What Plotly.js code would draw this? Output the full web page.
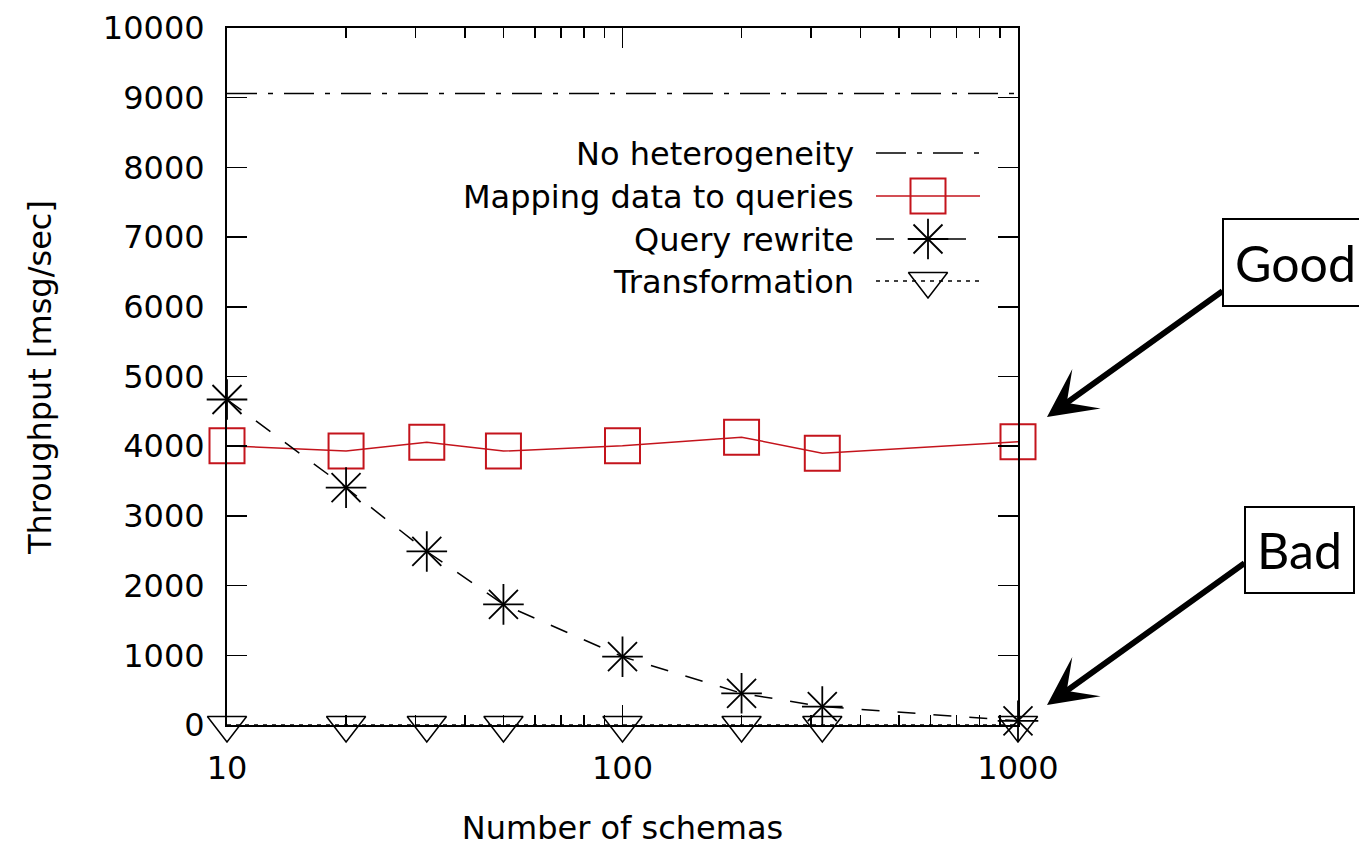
<!DOCTYPE html>
<html>
<head>
<meta charset="utf-8">
<script src="https://cdn.plot.ly/plotly-3.0.1.min.js"></script>
<style>html,body{margin:0;padding:0;background:#fff;overflow:hidden}#chart{width:1359px;height:849px}</style>
</head>
<body>
<div id="chart"></div>
<script>
// ---- data ----
const schemas = [10, 20, 32, 50, 100, 200, 320, 1000];
const noHeterogeneity = [9060, 9060, 9060, 9060, 9060, 9060, 9060, 9060];
const mappingDataToQueries = [4005, 3930, 4055, 3930, 4005, 4130, 3900, 4065];
const queryRewrite = [4670, 3405, 2490, 1730, 980, 455, 265, 60];
const transformation = [0, 0, 0, 0, 0, 0, 0, 0];
const seriesNames = ["No heterogeneity", "Mapping data to queries", "Query rewrite", "Transformation"];
const xTickVals = [10, 100, 1000];
const xTickText = ["10", "100", "1000"];
const calloutTexts = ["Good", "Bad"];
const xTitle = "Number of schemas";
const yTitle = "Throughput [msg/sec]";

// ---- layout constants (pixels) ----
const W = 1359, H = 849;
const P = {l: 227, r: 1018, t: 28, b: 725};
const FONT = "DejaVu Sans";
const RED = "#c4141c";
const px2paperX = px => (px - P.l) / (P.r - P.l);
const px2paperY = py => (P.b - py) / (P.b - P.t);

const minorX = [];
[10, 100].forEach(d => { for (let k = 2; k <= 9; k++) minorX.push(k * d); });

const styles = [
  {line: {color: "black", width: 1.5, dash: "30px,11px,5px,11px"}},
  {line: {color: RED, width: 1.5}, marker: {symbol: "square-open", size: 35, color: RED, line: {width: 2, color: RED}}},
  {line: {color: "black", width: 1.5, dash: "18px,18px"},
   marker: {symbol: "cross-thin-open", size: 29, color: "black", line: {width: 1.8, color: "black"}},
   marker2: {symbol: "x-thin-open", size: 29, color: "black", line: {width: 1.8, color: "black"}}},
  {line: {color: "black", width: 1.5, dash: "4px,5px"}, marker: {symbol: "triangle-down-open", size: 34, color: "black", line: {width: 1.5, color: "black"}}}
];
const seriesY = [noHeterogeneity, mappingDataToQueries, queryRewrite, transformation];

function mk(o) { const t = {type: "scatter", cliponaxis: false, showlegend: false, hoverinfo: "skip"}; return Object.assign(t, o); }

const traces = [];
seriesY.forEach((ys, i) => {
  const s = styles[i];
  const t = mk({x: schemas, y: ys, mode: s.marker ? "lines+markers" : "lines", name: seriesNames[i], line: s.line});
  if (s.marker) t.marker = s.marker;
  traces.push(t);
  if (s.marker2) traces.push(mk({x: schemas, y: ys, mode: "markers", marker: s.marker2}));
});

// ---- custom legend (text left, key right, gnuplot style) ----
const legendRows = [153, 196, 239, 281];
const keyX0 = 876, keyX1 = 980, keyXm = 928, textRight = 856;
const annotations = [];
seriesNames.forEach((name, i) => {
  const s = styles[i];
  const yy = legendRows[i];
  traces.push(mk({x: [keyX0, keyX1], y: [yy, yy], xaxis: "x2", yaxis: "y2", mode: "lines", line: s.line}));
  if (s.marker) traces.push(mk({x: [keyXm], y: [yy], xaxis: "x2", yaxis: "y2", mode: "markers", marker: s.marker}));
  if (s.marker2) traces.push(mk({x: [keyXm], y: [yy], xaxis: "x2", yaxis: "y2", mode: "markers", marker: s.marker2}));
  annotations.push({xref: "x2", yref: "y2", x: textRight, y: yy + 1, xanchor: "right", yanchor: "middle",
    text: name, showarrow: false, font: {family: FONT, size: 32, color: "black"}});
});

// ---- y axis title (placed like the reference) ----
annotations.push({xref: "paper", yref: "paper", x: px2paperX(40), y: px2paperY(378), xanchor: "center", yanchor: "middle",
  text: yTitle, textangle: -90, showarrow: false, font: {family: FONT, size: 32, color: "black"}});

// ---- callouts: boxed label + separate arrow ----
const callouts = [
  {boxLeft: 1222, boxMidY: 262.5, tail: [1224, 290], tip: [1047, 417], w: 150, h: 63, align: "left"},
  {boxLeft: 1244, boxMidY: 550, tail: [1246, 562], tip: [1047, 705], w: 85, h: 62, align: "center"}
];
callouts.forEach((c, i) => {
  annotations.push({xref: "paper", yref: "paper", x: px2paperX(c.tip[0]), y: px2paperY(c.tip[1]),
    ax: c.tail[0] - c.tip[0], ay: c.tail[1] - c.tip[1], axref: "pixel", ayref: "pixel",
    text: "", showarrow: true, arrowhead: 3, arrowsize: 1.35, arrowwidth: 6, arrowcolor: "black", standoff: 0});
  annotations.push({xref: "paper", yref: "paper", x: px2paperX(c.boxLeft), y: px2paperY(c.boxMidY),
    xanchor: "left", yanchor: "middle", showarrow: false, width: c.w, height: c.h, align: c.align,
    text: calloutTexts[i], bordercolor: "black", borderwidth: 2, borderpad: 11, bgcolor: "white",
    font: {family: "Lato", size: 50, color: "black"}});
});

const axisCommon = {
  showline: true, linecolor: "black", linewidth: 2, mirror: "ticks", ticks: "inside", tickcolor: "black",
  tickwidth: 1.5, ticklen: 20, showgrid: false, zeroline: false,
  tickfont: {family: FONT, size: 32, color: "black"}
};

const layout = {
  width: W, height: H,
  margin: {l: P.l, r: W - P.r, t: P.t, b: H - P.b},
  paper_bgcolor: "white", plot_bgcolor: "white",
  showlegend: false,
  xaxis: Object.assign({}, axisCommon, {
    type: "log", range: [1, 3], tickvals: xTickVals, ticktext: xTickText, ticklabelstandoff: 14,
    minor: {tickvals: minorX, ticks: "inside", ticklen: 10, tickwidth: 1.5, tickcolor: "black", showgrid: false},
    title: {text: xTitle, font: {family: FONT, size: 32, color: "black"}, standoff: 30}
  }),
  yaxis: Object.assign({}, axisCommon, {
    range: [0, 10000], dtick: 1000, tick0: 0, tickformat: "d", ticklabelstandoff: 14
  }),
  xaxis2: {overlaying: "x", anchor: "y2", range: [P.l, P.r], visible: false, fixedrange: true},
  yaxis2: {overlaying: "y", anchor: "x2", range: [P.b, P.t], visible: false, fixedrange: true},
  annotations: annotations
};

Plotly.newPlot("chart", traces, layout, {displayModeBar: false, staticPlot: true});
</script>
</body>
</html>
